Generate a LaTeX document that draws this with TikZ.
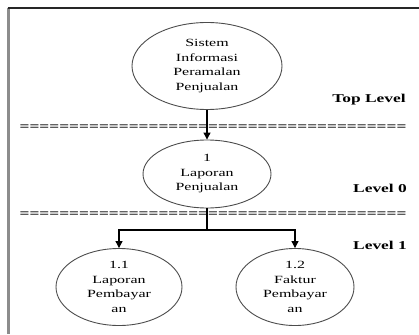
\documentclass[tikz,border=0pt]{standalone}
\usepackage{fontspec}
\newfontfamily\dfdfont[FakeStretch=1.45]{Liberation Serif}
\usetikzlibrary{shapes.geometric,arrows.meta}
\tikzset{
  proses/.style={ellipse, draw=black!70, line width=0.9pt, inner sep=0pt, align=center,
    font=\dfdfont\fontsize{11}{14.5}\selectfont},
  aliran/.style={line width=1.1pt, -{Triangle[length=7pt,width=7pt]}},
  levellabel/.style={font=\dfdfont\bfseries\fontsize{12}{14}\selectfont, inner sep=0pt},
  pemisah/.style={font=\dfdfont\bfseries\fontsize{12}{14}\selectfont, inner sep=0pt}
}
\begin{document}
\begin{tikzpicture}[x=1pt,y=-1pt]
\useasboundingbox (0,0) rectangle (419,334);
% bingkai
\draw[black!45, line width=2.6pt] (8.5,8) -- (8.5,334);
\draw[black!85, line width=1.1pt] (7.5,8) -- (419,8);
% proses
\node[proses, minimum width=150pt, minimum height=87pt] (top) at (207,66)
  {Sistem\\Informasi\\Peramalan\\Penjualan};
\node[proses, minimum width=128pt, minimum height=68pt] (p1) at (207,174)
  {1\\Laporan\\Penjualan};
\node[proses, minimum width=126pt, minimum height=77pt] (p11) at (119,287)
  {1.1\\Laporan\\Pembayar\\an};
\node[proses, minimum width=118pt, minimum height=77pt] (p12) at (295,287)
  {1.2\\Faktur\\Pembayar\\an};
% pemisah level
\node[pemisah] (garis0) at (213,128) {=======================================};
\node[pemisah] (garis1) at (213,215) {=======================================};
\node[levellabel] (lvtop) at (369,100) {Top Level};
\node[levellabel] (lv0) at (380,188) {Level 0};
\node[levellabel] (lv1) at (380,245) {Level 1};
% aliran
\coordinate (cab) at (207,230);
\draw[aliran] (top) -- (p1);
\draw[line width=1.1pt] (p1) -- (cab);
\draw[aliran] (cab) -| (p11);
\draw[aliran] (cab) -| (p12);
\end{tikzpicture}
\end{document}
